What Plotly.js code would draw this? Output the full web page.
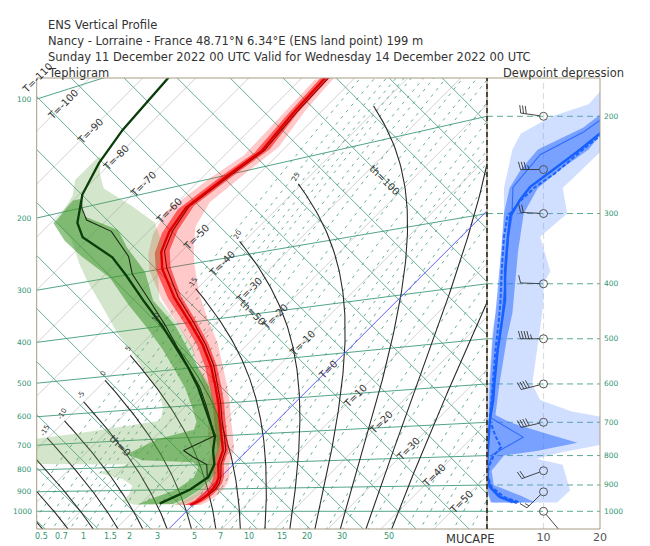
<!DOCTYPE html>
<html>
<head>
<meta charset="utf-8">
<script src="https://cdn.plot.ly/plotly-3.0.1.min.js"></script>
<style>body{margin:0;background:#fff}#plot{width:650px;height:546px}</style>
</head>
<body>
<div id="plot"></div>
<script>
// ---- Temperature (ENS), hPa / degC
const tLev = [140, 160, 185, 200, 225, 250, 275, 300, 350, 400, 450, 500, 550, 600, 650, 700, 750, 800, 850, 875, 900, 925, 950, 970];
const tMed = [-55.6, -55.0, -53.8, -55.5, -57.4, -56.0, -53.7, -50.3, -42.6, -35.0, -28.3, -22.8, -18.3, -14.3, -10.9, -7.6, -4.6, -2.9, -0.4, 0.4, 0.75, 0.8, 0.4, -0.5];
const tCtl = [-55.0, -54.5, -53.4, -55.0, -57.0, -55.5, -53.2, -49.6, -42.0, -34.4, -27.8, -22.3, -17.9, -13.9, -10.5, -7.1, -4.1, -2.4, 0.0, 0.9, 1.3, 1.1, 0.6, -0.2];
const tQlo = [-56.4, -55.8, -54.8, -56.7, -58.6, -57.1, -54.7, -51.3, -43.6, -35.9, -29.2, -23.8, -19.3, -15.3, -11.9, -8.6, -5.6, -3.9, -1.4, -0.6, -0.2, -0.3, -0.6, -1.6];
const tQhi = [-54.8, -54.2, -52.6, -54.3, -56.2, -54.7, -52.4, -49.0, -41.5, -33.9, -27.3, -21.8, -17.3, -13.3, -9.9, -6.6, -3.6, -1.9, 0.6, 1.4, 1.8, 1.8, 1.4, 0.6];
const tMin = [-57.2, -56.8, -56.3, -58.5, -60.4, -58.5, -55.7, -52.3, -44.6, -37.0, -30.3, -24.8, -20.3, -16.3, -12.9, -10.1, -6.6, -4.9, -2.4, -1.6, -1.3, -1.7, -2.6, -3.5];
const tMax = [-54.0, -53.2, -51.3, -52.5, -53.9, -52.0, -48.7, -45.3, -38.6, -32.0, -25.8, -20.8, -16.3, -12.3, -8.9, -5.6, -2.6, -0.9, 1.6, 2.4, 2.8, 2.8, 2.4, 1.5];

// ---- Dewpoint (ENS)
const tdLev = [100, 112, 138, 160, 186, 216, 235, 270, 300, 350, 400, 450, 500, 550, 600, 650, 700, 750, 800, 850, 900, 930, 963];
const tdCtl = [-86.0, -85.2, -84.0, -82.2, -79.4, -75.0, -71.3, -61.9, -56.0, -47.4, -39.5, -32.7, -26.6, -21.3, -16.8, -12.6, -8.8, -6.4, -3.6, -2.3, -3.4, -4.9, -6.5];
const tdMedLev = [186, 200, 215, 235, 273, 300, 350, 400, 450, 500, 550, 600, 650, 700, 730, 745, 770, 800, 850, 900, 930, 960];
const tdMed = [-79.5, -77.0, -73.8, -67.0, -59.0, -55.0, -46.5, -39.0, -32.5, -26.5, -21.0, -16.5, -12.5, -9.0, -11.0, -12.0, -9.0, -5.0, -2.5, -3.5, -5.0, -6.5];
const tdQLev = [190, 210, 235, 260, 300, 350, 400, 450, 500, 550, 600, 650, 675, 700, 750, 775, 790, 810, 850, 900, 940, 965];
const tdQlo = [-80.0, -79.5, -74.0, -68.0, -58.5, -50.0, -42.0, -35.0, -29.0, -23.5, -19.0, -15.0, -14.0, -19.0, -22.0, -18.0, -8.0, -6.0, -5.0, -6.0, -9.0, -10.5];
const tdQhi = [-79.0, -75.0, -66.0, -61.0, -53.0, -46.0, -37.5, -31.0, -25.0, -19.5, -15.0, -11.0, -9.0, -7.5, -5.5, -4.5, -4.0, -3.0, -1.5, -1.5, -2.5, -4.0];
const tdMLev = [155, 170, 185, 210, 235, 270, 300, 350, 400, 450, 500, 550, 600, 640, 665, 690, 740, 770, 790, 820, 850, 880, 920, 950, 968];
const tdMin = [-83.5, -83.5, -81.0, -79.0, -73.0, -67.0, -62.0, -54.0, -47.0, -40.0, -34.0, -28.0, -24.0, -22.0, -35.0, -50.0, -52.0, -42.0, -20.0, -24.0, -18.0, -15.0, -14.0, -14.0, -11.0];
const tdMax = [-83.0, -80.0, -76.5, -68.0, -60.5, -54.0, -51.0, -45.0, -37.0, -30.0, -25.0, -19.0, -15.0, -11.5, -9.5, -8.0, -5.0, -4.0, -3.0, -2.0, -1.0, -0.5, -0.5, -1.0, -2.0];

// ---- Dewpoint depression panel
const ddLev = [190, 215, 230, 254, 269, 284, 304, 330, 378, 427, 464, 523, 600, 640, 694, 740, 773, 800, 837, 870, 907, 944, 967];
const ddCtl = [24.0, 20.0, 16.5, 11.0, 7.6, 5.8, 4.1, 3.7, 3.2, 3.2, 2.7, 1.9, 1.3, 1.1, 0.5, 0.4, 0.2, 0.1, 0.0, 0.1, 0.5, 2.3, 5.3];
const ddMed = [24.0, 20.5, 17.0, 12.0, 8.5, 6.0, 3.6, 3.0, 2.6, 2.4, 2.1, 1.5, 1.0, 0.8, 0.5, 1.5, 2.5, 1.2, 0.3, 0.1, 0.8, 3.0, 6.0];
const ddThinLev = [190, 203, 214, 235, 247, 269, 304, 330, 378, 427, 464, 523, 600, 640, 686, 743, 798, 837, 870, 907, 944, 967];
const ddThin = [24.0, 20.0, 17.0, 9.4, 7.6, 4.6, 4.4, 3.8, 3.4, 3.0, 2.6, 1.8, 1.2, 0.8, 0.5, 6.4, 0.9, 0.2, 0.1, 0.4, 2.0, 4.5];
const ddQLev = [195, 210, 230, 250, 270, 300, 350, 400, 450, 500, 600, 680, 700, 730, 760, 785, 800, 850, 900, 940, 965];
const ddQlo = [21.0, 17.0, 9.0, 6.0, 4.0, 3.0, 2.5, 2.0, 1.5, 1.0, 0.5, 0.3, 0.2, 0.2, 0.3, 0.3, 0.0, 0.0, 0.0, 0.3, 0.8];
const ddQhi = [22.0, 21.0, 18.0, 13.0, 9.0, 6.5, 5.5, 5.0, 4.5, 3.5, 2.2, 1.5, 4.0, 10.0, 16.0, 9.0, 3.0, 0.8, 1.2, 6.0, 8.5];
const ddMLev = [180, 190, 200, 215, 230, 270, 300, 330, 380, 400, 430, 480, 600, 640, 670, 690, 760, 790, 810, 830, 920, 965];
const ddMin = [20.0, 18.0, 11.5, 6.0, 4.5, 3.0, 3.0, 3.0, 2.5, 2.2, 2.0, 1.0, 0.3, 0.0, 0.0, 0.0, 0.0, 0.0, 0.0, 0.0, 0.0, 0.5];
const ddMax = [22.0, 22.0, 21.0, 20.5, 20.5, 13.4, 14.2, 9.4, 11.2, 10.0, 10.0, 9.4, 8.0, 9.4, 15.0, 22.0, 22.0, 13.0, 8.8, 13.4, 14.7, 12.4];

// ---- Wind barbs
const barbLev = [200, 250, 300, 400, 500, 600, 700, 850, 925, 1000];
const barbAng = [172, 180, 177, 178, 180, 194, 193, 200, 224, -50];
const barbFull = [3, 3, 2, 1, 4, 4, 4, 2, 1, 0];
const barbHalf = [0, 1, 0, 0, 1, 0, 0, 0, 1, 0];

// ---- Diagram furniture
const isobars = [100, 200, 300, 400, 500, 600, 700, 800, 900, 1000];
const mixRatios = [0.3, 0.4, 0.5, 0.6, 0.7, 0.8, 1, 1.2, 1.5, 2, 2.5, 3, 4, 5, 6, 7, 8, 10, 12, 15, 20, 25, 30, 40, 50, 60, 70, 80, 100, 120];
const mixLabels = [0.5, 0.7, 1, 1.5, 2, 3, 5, 7, 10, 15, 20, 30, 50];
const thetaW = [-30, -25, -20, -15, -10, -5, 0, 5, 10, 15, 20, 25, 30, 35, 40];
const thetaWLabels = [-15, -10, -5, 0, 5, 10, 15, 20, 25];

const KAPPA = 0.2857;
const U0 = -56.5, U1 = 113.4, V0 = -6.68, V1 = 163.5;
const GREEN = '#3f9b7b', TEAL = '#2f9470';

// tephigram: rotated T / theta (degC)
const tephi = (T, p) => {
    const th = (T + 273.15) * Math.pow(1000 / p, KAPPA) - 273.15;
    return [T + th, th - T];
};
// isobars are straight lines in these coordinates
const isobarV = (p, u) => {
    const f = Math.pow(1000 / p, KAPPA);
    return (u + 546.3) / (1 + f) * (f - 1);
};
const ES = T => 6.112 * Math.exp(17.67 * T / (T + 243.5));

const traces = [];
const line = (xs, ys, color, width, dash, xa) => traces.push({
    x: xs, y: ys, mode: 'lines', type: 'scatter', hoverinfo: 'skip', showlegend: false,
    line: { color: color, width: width, dash: dash || 'solid' }, xaxis: xa || 'x', yaxis: 'y'
});
const poly = (xs, ys, color, xa) => traces.push({
    x: xs, y: ys, mode: 'lines', type: 'scatter', fill: 'toself', fillcolor: color,
    line: { width: 0 }, hoverinfo: 'skip', showlegend: false, xaxis: xa || 'x', yaxis: 'y'
});

// profile -> diagram coordinates
const profile = (lev, vals) => {
    const xs = [], ys = [];
    lev.forEach((p, i) => { const [u, v] = tephi(vals[i], p); xs.push(u); ys.push(v); });
    return [xs, ys];
};
const band = (lev, lo, hi) => {
    const [x1, y1] = profile(lev, hi);
    const [x2, y2] = profile(lev, lo);
    return [x1.concat(x2.reverse()), y1.concat(y2.reverse())];
};
const ddProfile = (lev, vals) => [vals, lev.map(p => isobarV(p, U1))];
const ddBand = (lev, lo, hi) => [hi.concat(lo.slice().reverse()),
    lev.map(p => isobarV(p, U1)).concat(lev.map(p => isobarV(p, U1)).reverse())];

// isotherms
for (let T = -130; T <= 70; T += 10) {
    if (T === 0) continue;
    line([2 * T + V0 - 5, 2 * T + V1 + 5], [V0 - 5, V1 + 5], '#d2d2d2', 1);
}
// dry adiabats
for (let th = -60; th <= 200; th += 10) {
    line([U0 - 5, U1 + 5], [2 * th - U0 + 5, 2 * th - U1 - 5], GREEN, 0.8);
}
// isobars
isobars.forEach(p => line([U0, U1], [isobarV(p, U0), isobarV(p, U1)], GREEN, 0.9));

// saturation mixing ratio lines
const mixLine = r => {
    const xs = [], ys = [];
    for (let p = 1120; p >= 50; p -= 10) {
        const a = Math.log(r * p / (622 + r) / 6.112);
        const [u, v] = tephi(243.5 * a / (17.67 - a), p);
        xs.push(u); ys.push(v);
    }
    return [xs, ys];
};
mixRatios.forEach(r => { const [xs, ys] = mixLine(r); line(xs, ys, GREEN, 0.8, '3px,5px'); });

// saturated adiabats, started at -40 degC like the original
const moist = tw => {
    const g = (T, p) => {
        const tk = T + 273.15, rs = 0.622 * ES(T) / (p - ES(T));
        return (287 * tk + 2.5e6 * rs) / (p * (1004 + 2.5e6 * 2.5e6 * rs * 0.622 / (287 * tk * tk)));
    };
    const up = [], down = [];
    let T = tw, p = 1000;
    while (T > -40 && p > 60) {
        const k = g(T - 2.5 * g(T, p), p - 2.5);
        T -= 5 * k; p -= 5; up.push([T, p]);
    }
    T = tw; p = 1000;
    while (p < 1120) {
        const k = g(T + 2.5 * g(T, p), p + 2.5);
        T += 5 * k; p += 5; down.push([T, p]);
    }
    return down.reverse().concat([[tw, 1000]], up);
};
const moistTop = {};
thetaW.forEach(tw => {
    const pts = moist(tw);
    const xs = [], ys = [];
    pts.forEach(([T, p]) => { const [u, v] = tephi(T, p); xs.push(u); ys.push(v); });
    moistTop[tw] = [xs[xs.length - 1], ys[ys.length - 1]];
    line(xs, ys, '#2a2a2a', 1.1);
});

// 0 degC isotherm
line([V0 - 5, V1 + 5], [V0 - 5, V1 + 5], '#5b5bff', 1);

// ---- temperature
let b = band(tLev, tMin, tMax); poly(b[0], b[1], 'rgba(255,40,40,0.25)');
b = band(tLev, tQlo, tQhi); poly(b[0], b[1], 'rgba(255,0,0,0.55)');
// ---- dewpoint
b = band(tdMLev, tdMin, tdMax); poly(b[0], b[1], 'rgba(110,170,80,0.3)');
b = band(tdQLev, tdQlo, tdQhi); poly(b[0], b[1], 'rgba(60,150,40,0.55)');
let pr = profile(tdMedLev, tdMed); line(pr[0], pr[1], '#1b2b14', 1.1);
pr = profile(tdLev, tdCtl); line(pr[0], pr[1], '#0b3d0b', 2.3);
pr = profile(tLev, tCtl); line(pr[0], pr[1], '#8a0000', 1.1);
pr = profile(tLev, tMed); line(pr[0], pr[1], '#e00000', 2.4);

// ---- dewpoint depression panel
b = ddBand(ddMLev, ddMin, ddMax); poly(b[0], b[1], 'rgba(100,150,255,0.3)', 'x2');
b = ddBand(ddQLev, ddQlo, ddQhi); poly(b[0], b[1], 'rgba(50,110,255,0.55)', 'x2');
pr = ddProfile(ddThinLev, ddThin); line(pr[0], pr[1], '#2f6bff', 1.1, 'solid', 'x2');
pr = ddProfile(ddLev, ddMed); line(pr[0], pr[1], '#1d63ff', 2, '4px,2px', 'x2');
pr = ddProfile(ddLev, ddCtl); line(pr[0], pr[1], '#1560ff', 2.4, 'solid', 'x2');

// wind barbs (pixel lengths converted to panel units)
const PX = 113 / 20, PY = 2.65;
const bx = [], by = [];
barbLev.forEach((p, i) => {
    const cx = 10, cy = isobarV(p, U1);
    const a = barbAng[i] * Math.PI / 180;
    const L = barbFull[i] + barbHalf[i] > 0 ? 23 : 25;
    const ex = Math.cos(a), ey = Math.sin(a);
    bx.push(cx + 4 * ex / PX, cx + L * ex / PX, null);
    by.push(cy + 4 * ey / PY, cy + L * ey / PY, null);
    const fa = a - (90 - 15) * Math.PI / 180;
    const feathers = [];
    for (let k = 0; k < barbFull[i]; k++) feathers.push(8);
    for (let k = 0; k < barbHalf[i]; k++) feathers.push(4.5);
    feathers.forEach((len, k) => {
        const d = L - k * 2.8;
        const sx = cx + d * ex / PX, sy = cy + d * ey / PY;
        bx.push(sx, sx + len * Math.cos(fa) / PX, null);
        by.push(sy, sy + len * Math.sin(fa) / PY, null);
    });
});
line(bx, by, '#333333', 0.9, 'solid', 'x2');
traces.push({
    x: barbLev.map(() => 10), y: barbLev.map(p => isobarV(p, U1)), mode: 'markers', type: 'scatter',
    marker: { symbol: 'circle-open', size: 8, color: '#555', line: { width: 1 } },
    hoverinfo: 'skip', showlegend: false, xaxis: 'x2', yaxis: 'y'
});

// ---- annotations
const ann = [];
const txt = (o) => ann.push(Object.assign({ showarrow: false, font: { family: 'DejaVu Sans', size: 10, color: '#333' } }, o));
const titles = ['ENS Vertical Profile',
    'Nancy - Lorraine - France 48.71°N 6.34°E (ENS land point) 199 m',
    'Sunday 11 December 2022 00 UTC Valid for Wednesday 14 December 2022 00 UTC'];
titles.forEach((t, i) => txt({ text: t, xref: 'paper', yref: 'paper', x: 46 / 650, y: 1 - (25 + 16 * i) / 546,
    xanchor: 'left', yanchor: 'middle', font: { family: 'DejaVu Sans', size: 11.5, color: '#333' } }));
txt({ text: 'Tephigram', xref: 'paper', yref: 'paper', x: 46 / 650, y: 1 - 73 / 546, xanchor: 'left', yanchor: 'middle',
    font: { family: 'DejaVu Sans', size: 11.5, color: '#333' } });
txt({ text: 'Dewpoint depression', xref: 'paper', yref: 'paper', x: 626 / 650, y: 1 - 73 / 546, xanchor: 'right', yanchor: 'middle',
    font: { family: 'DejaVu Sans', size: 11.5, color: '#333' } });
txt({ text: 'MUCAPE', xref: 'paper', yref: 'paper', x: 470 / 650, y: 1 - 539 / 546, xanchor: 'center', yanchor: 'middle',
    font: { family: 'DejaVu Sans', size: 11.5, color: '#333' } });

for (let T = -110; T <= 60; T += 10) {
    txt({ text: 'T=' + T, x: T + 53.5, y: 53.5 - T, textangle: -45, xanchor: 'center', yanchor: 'middle' });
}
[0, 50, 100].forEach(th => txt({ text: 'th=' + th, x: th - 25, y: th + 25, textangle: 45 }));
thetaWLabels.forEach(tw => {
    const [u, v] = moistTop[tw];
    txt({ text: String(tw), x: u - 0.8, y: v + 2.5, textangle: -60, font: { family: 'DejaVu Sans', size: 7, color: '#333' } });
});
isobars.forEach(p => txt({ text: String(p), xref: 'paper', x: 34 / 650, y: isobarV(p, U0), xanchor: 'right',
    font: { family: 'DejaVu Sans', size: 7.5, color: TEAL } }));
isobars.filter(p => p >= 200).forEach(p => txt({ text: String(p), xref: 'paper', x: 602 / 650, y: isobarV(p, U1),
    xanchor: 'left', font: { family: 'DejaVu Sans', size: 7.5, color: TEAL } }));
mixLabels.forEach(r => {
    const [xs, ys] = mixLine(r);
    let ub = xs[0];
    for (let i = 1; i < xs.length; i++) {
        if (ys[i] >= V0) { const t = (V0 - ys[i - 1]) / (ys[i] - ys[i - 1]); ub = xs[i - 1] + t * (xs[i] - xs[i - 1]); break; }
    }
    txt({ text: String(r), x: ub, yref: 'paper', y: 1 - 536 / 546, yanchor: 'middle',
        font: { family: 'DejaVu Sans', size: 8, color: TEAL } });
});

// ---- frames and panel lines
const X0 = 36.7 / 650, X1 = 487 / 650, X2 = 600 / 650, Y0 = 17 / 546, Y1 = 468 / 546;
const shapes = [
    { type: 'rect', xref: 'paper', yref: 'paper', x0: X0, x1: X1, y0: Y0, y1: Y1, line: { color: '#a89c84', width: 1 } },
    { type: 'rect', xref: 'paper', yref: 'paper', x0: X1, x1: X2, y0: Y0, y1: Y1, line: { color: '#a89c84', width: 1 } },
    { type: 'line', xref: 'x2', yref: 'paper', x0: 10, x1: 10, y0: Y0, y1: Y1, layer: 'below', line: { color: '#dcdcdc', width: 1.2, dash: '6px,4px' } },
    { type: 'line', xref: 'paper', yref: 'paper', x0: X1, x1: X1, y0: Y0, y1: Y1, line: { color: '#000', width: 1.2, dash: '5px,3px' } }
];
isobars.filter(p => p >= 200).forEach(p => shapes.push({ type: 'line', xref: 'x2', yref: 'y', x0: 0, x1: 20,
    y0: isobarV(p, U1), y1: isobarV(p, U1), layer: 'below', line: { color: '#5aaa8c', width: 1, dash: '6px,4px' } }));

const noAx = { showgrid: false, zeroline: false, showticklabels: false, ticks: '', showline: false };
const layout = {
    width: 650, height: 546, margin: { l: 0, r: 0, t: 0, b: 0 },
    paper_bgcolor: '#fff', plot_bgcolor: 'rgba(0,0,0,0)', showlegend: false,
    font: { family: 'DejaVu Sans', color: '#333' },
    xaxis: Object.assign({ domain: [X0, X1], range: [U0, U1], anchor: 'y' }, noAx),
    yaxis: Object.assign({ domain: [Y0, Y1], range: [V0, V1], anchor: 'x' }, noAx),
    xaxis2: { domain: [X1, X2], range: [0, 20], anchor: 'y', showgrid: false, zeroline: false, showline: false,
        tickvals: [10, 20], ticks: '', tickfont: { family: 'DejaVu Sans', size: 11, color: '#555' } },
    shapes: shapes, annotations: ann
};

Plotly.newPlot('plot', traces, layout, { staticPlot: true });
</script>
</body>
</html>
